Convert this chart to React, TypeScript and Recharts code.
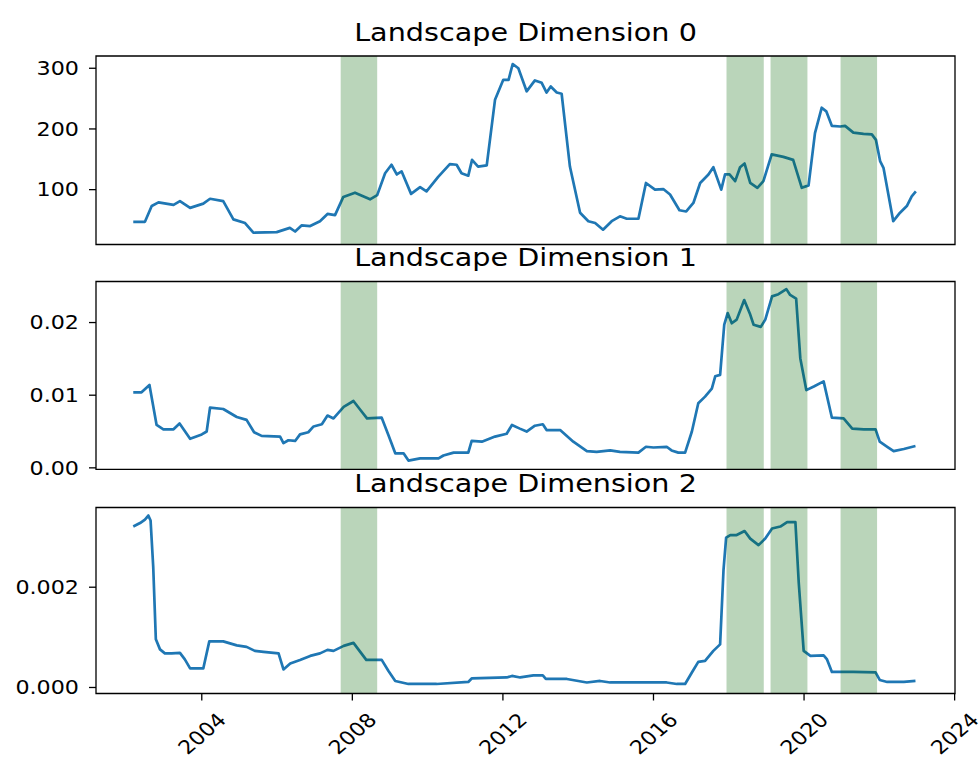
import React from 'react';
import { LineChart, Line, XAxis, YAxis, ReferenceArea } from 'recharts';

// Landscape Dimension 0
const years0 = [2002.18, 2002.49, 2002.67, 2002.85, 2003.25, 2003.42, 2003.69, 2004.04, 2004.22, 2004.57, 2004.84, 2005.15, 2005.37, 2005.99, 2006.34, 2006.48, 2006.65, 2006.88, 2007.14, 2007.34, 2007.54, 2007.76, 2008.07, 2008.47, 2008.66, 2008.87, 2009.04, 2009.18, 2009.31, 2009.56, 2009.80, 2009.97, 2010.28, 2010.59, 2010.77, 2010.90, 2011.08, 2011.18, 2011.34, 2011.57, 2011.79, 2012.01, 2012.15, 2012.26, 2012.41, 2012.63, 2012.85, 2013.03, 2013.16, 2013.27, 2013.43, 2013.56, 2013.78, 2014.05, 2014.27, 2014.45, 2014.66, 2014.89, 2015.11, 2015.29, 2015.60, 2015.80, 2016.04, 2016.26, 2016.44, 2016.69, 2016.87, 2017.06, 2017.24, 2017.46, 2017.59, 2017.80, 2017.90, 2018.02, 2018.17, 2018.30, 2018.42, 2018.57, 2018.76, 2018.92, 2019.14, 2019.45, 2019.71, 2019.94, 2020.12, 2020.29, 2020.47, 2020.59, 2020.74, 2020.96, 2021.09, 2021.31, 2021.58, 2021.80, 2021.91, 2022.02, 2022.11, 2022.37, 2022.55, 2022.73, 2022.86, 2022.97];
const values0 = [47, 47, 73, 79, 75, 81, 70, 77, 85, 81, 51, 45, 29, 30, 37, 31, 41, 40, 48, 60, 58, 88, 95, 84, 91, 127, 141, 125, 130, 93, 104, 97, 121, 142, 141, 127, 123, 149, 138, 140, 248, 281, 281, 307, 300, 262, 280, 276, 260, 270, 260, 258, 138, 62, 48, 45, 34, 48, 56, 52, 52, 111, 100, 101, 92, 66, 64, 78, 111, 125, 137, 100, 125, 125, 114, 137, 143, 111, 103, 114, 158, 154, 149, 103, 107, 193, 235, 229, 205, 204, 205, 194, 192, 191, 182, 147, 136, 48, 62, 73, 89, 97];

// Landscape Dimension 1
const years1 = [2002.18, 2002.40, 2002.61, 2002.80, 2002.98, 2003.25, 2003.41, 2003.69, 2004.00, 2004.13, 2004.22, 2004.57, 2004.93, 2005.19, 2005.39, 2005.59, 2006.08, 2006.17, 2006.30, 2006.48, 2006.61, 2006.83, 2006.97, 2007.19, 2007.34, 2007.50, 2007.77, 2008.03, 2008.21, 2008.39, 2008.78, 2008.96, 2009.14, 2009.36, 2009.49, 2009.80, 2010.29, 2010.42, 2010.69, 2011.08, 2011.17, 2011.44, 2011.79, 2012.10, 2012.24, 2012.45, 2012.63, 2012.85, 2013.06, 2013.16, 2013.52, 2013.87, 2014.23, 2014.49, 2014.85, 2015.11, 2015.60, 2015.80, 2016.00, 2016.35, 2016.48, 2016.66, 2016.84, 2017.02, 2017.19, 2017.37, 2017.55, 2017.64, 2017.77, 2017.88, 2017.97, 2018.08, 2018.21, 2018.41, 2018.57, 2018.66, 2018.85, 2018.97, 2019.15, 2019.32, 2019.53, 2019.63, 2019.79, 2019.90, 2020.06, 2020.26, 2020.52, 2020.74, 2021.05, 2021.28, 2021.59, 2021.90, 2022.01, 2022.21, 2022.38, 2022.65, 2022.96];
const values1 = [0.0104, 0.0104, 0.0114, 0.0059, 0.0053, 0.0053, 0.0061, 0.004, 0.0046, 0.005, 0.0083, 0.0081, 0.007, 0.0066, 0.0049, 0.0044, 0.0043, 0.0034, 0.0038, 0.0037, 0.0046, 0.0049, 0.0057, 0.006, 0.0072, 0.0068, 0.0084, 0.0092, 0.008, 0.0068, 0.0069, 0.0045, 0.002, 0.002, 0.001, 0.0013, 0.0013, 0.0017, 0.0021, 0.0021, 0.0037, 0.0036, 0.0043, 0.0047, 0.0059, 0.0054, 0.005, 0.0058, 0.006, 0.0052, 0.0052, 0.0036, 0.0023, 0.0022, 0.0024, 0.0022, 0.0021, 0.0029, 0.0028, 0.0029, 0.0024, 0.0021, 0.0021, 0.005, 0.0089, 0.0098, 0.0109, 0.0126, 0.0128, 0.0197, 0.0213, 0.0199, 0.0204, 0.0231, 0.0211, 0.0197, 0.0194, 0.0204, 0.0236, 0.0239, 0.0246, 0.0238, 0.0233, 0.0151, 0.0107, 0.0112, 0.0119, 0.0069, 0.0068, 0.0054, 0.0053, 0.0053, 0.0036, 0.0029, 0.0023, 0.0026, 0.003];

// Landscape Dimension 2
const years2 = [2002.18, 2002.36, 2002.49, 2002.58, 2002.64, 2002.71, 2002.78, 2002.89, 2003.02, 2003.20, 2003.42, 2003.55, 2003.69, 2004.04, 2004.20, 2004.57, 2004.93, 2005.19, 2005.41, 2005.64, 2006.04, 2006.17, 2006.35, 2006.61, 2006.88, 2007.14, 2007.34, 2007.50, 2007.77, 2008.03, 2008.21, 2008.37, 2008.78, 2008.96, 2009.14, 2009.49, 2010.24, 2011.08, 2011.17, 2012.10, 2012.24, 2012.46, 2012.81, 2013.06, 2013.14, 2013.70, 2014.23, 2014.58, 2014.85, 2016.35, 2016.62, 2016.84, 2017.02, 2017.19, 2017.37, 2017.59, 2017.77, 2017.86, 2017.93, 2018.04, 2018.21, 2018.42, 2018.57, 2018.79, 2018.97, 2019.15, 2019.37, 2019.55, 2019.77, 2019.86, 2019.99, 2020.17, 2020.52, 2020.61, 2020.74, 2021.31, 2021.90, 2022.01, 2022.21, 2022.65, 2022.96];
const values2 = [0.00321, 0.00328, 0.00335, 0.00343, 0.00333, 0.00241, 0.00096, 0.00076, 0.00068, 0.00068, 0.00069, 0.00056, 0.00038, 0.00038, 0.00092, 0.00092, 0.00084, 0.00081, 0.00073, 0.00071, 0.00068, 0.00036, 0.00048, 0.00055, 0.00063, 0.00068, 0.00075, 0.00073, 0.00083, 0.00089, 0.00071, 0.00055, 0.00055, 0.00033, 0.00013, 0.00007, 0.00007, 0.00011, 0.00018, 0.0002, 0.00023, 0.0002, 0.00024, 0.00024, 0.00017, 0.00017, 0.0001, 0.00013, 0.0001, 0.0001, 0.00007, 0.00007, 0.0003, 0.00051, 0.00053, 0.00073, 0.00086, 0.00234, 0.00299, 0.00304, 0.00304, 0.00312, 0.00297, 0.00284, 0.00297, 0.00317, 0.00321, 0.0033, 0.0033, 0.00208, 0.00073, 0.00063, 0.00064, 0.00056, 0.00031, 0.00031, 0.0003, 0.00015, 0.00011, 0.00011, 0.00013];

// shaded periods
const bandStarts = [2007.69, 2017.94, 2019.11, 2020.97];
const bandEnds = [2008.66, 2018.93, 2020.09, 2021.94];

const xTicks = [2004, 2008, 2012, 2016, 2020, 2024];
const titles = ['Landscape Dimension 0', 'Landscape Dimension 1', 'Landscape Dimension 2'];

const W = 979;
const H = 767;
const LEFT = 96;
const RIGHT = 955;
const Y_W = 60;
const X_H = 60;
const X_DOMAIN: [number, number] = [2001.19, 2024.01];
const FONT = '"DejaVu Sans", sans-serif';
const STRETCH = 1.17;

const panels = [
  { years: years0, values: values0, top: 56, bottom: 244.5, domain: [9.6, 320.2], ticks: [100, 200, 300], digits: 0 },
  { years: years1, values: values1, top: 281.5, bottom: 469.3, domain: [-0.0002, 0.02565], ticks: [0, 0.01, 0.02], digits: 2 },
  { years: years2, values: values2, top: 507.5, bottom: 693.5, domain: [-0.00012, 0.00359], ticks: [0, 0.002], digits: 3 },
];

const YTick = ({ x, y, payload, digits }: any) => (
  <g transform={`translate(${x},${y}) scale(${STRETCH},1)`}>
    <text x={0} y={0} dy="0.36em" textAnchor="end" fontFamily={FONT} fontSize={19} fill="#000">
      {Number(payload.value).toFixed(digits)}
    </text>
  </g>
);

const XTick = ({ x, y, payload }: any) => (
  <g transform={`translate(${x},${y + 31}) scale(${STRETCH},1) rotate(-45)`}>
    <text x={0} y={0} dy="0.36em" textAnchor="middle" fontFamily={FONT} fontSize={19} fill="#000">
      {payload.value}
    </text>
  </g>
);

const Panel = ({ idx }: { idx: number }) => {
  const p = panels[idx];
  const last = idx === panels.length - 1;
  const data = p.years.map((yr, i) => ({ x: yr, v: p.values[i] }));
  return (
    <div style={{ position: 'absolute', left: 0, top: 0 }}>
      <LineChart
        width={W}
        height={H}
        data={data}
        margin={{ top: p.top, bottom: H - p.bottom - (last ? X_H : 0), left: LEFT - Y_W, right: W - RIGHT }}
      >
        <XAxis
          dataKey="x"
          type="number"
          domain={X_DOMAIN}
          allowDataOverflow
          hide={!last}
          ticks={xTicks}
          height={X_H}
          interval={0}
          axisLine={false}
          tickLine={{ stroke: '#000', strokeWidth: 1.3 }}
          tickSize={7}
          tickMargin={2}
          tick={<XTick />}
        />
        <YAxis
          type="number"
          domain={p.domain}
          allowDataOverflow
          ticks={p.ticks}
          width={Y_W}
          interval={0}
          axisLine={false}
          tickLine={{ stroke: '#000', strokeWidth: 1.3 }}
          tickSize={7}
          tickMargin={10}
          tick={<YTick digits={p.digits} />}
        />
        <Line
          dataKey="v"
          type="linear"
          stroke="#1f77b4"
          strokeWidth={2.7}
          strokeLinejoin="round"
          dot={false}
          activeDot={false}
          isAnimationActive={false}
        />
        {bandStarts.map((s, i) => (
          <ReferenceArea
            key={i}
            x1={s}
            x2={bandEnds[i]}
            fill="#006400"
            fillOpacity={0.27}
            stroke="none"
            zIndex={450}
          />
        ))}
        <ReferenceArea
          x1={X_DOMAIN[0]}
          x2={X_DOMAIN[1]}
          y1={p.domain[0]}
          y2={p.domain[1]}
          fill="none"
          stroke="#000"
          strokeWidth={1.3}
          ifOverflow="visible"
          zIndex={460}
        />
      </LineChart>
    </div>
  );
};

export default function App() {
  return (
    <div style={{ position: 'absolute', left: 0, top: 0, width: W, height: H, background: '#fff' }}>
      <Panel idx={0} />
      <Panel idx={1} />
      <Panel idx={2} />
      <svg width={W} height={H} style={{ position: 'absolute', left: 0, top: 0, pointerEvents: 'none' }}>
        {titles.map((t, i) => (
          <g key={t} transform={`translate(${(LEFT + RIGHT) / 2},${panels[i].top - 15.5}) scale(${STRETCH},1)`}>
            <text x={0} y={0} textAnchor="middle" fontFamily={FONT} fontSize={24.5} fill="#000">
              {t}
            </text>
          </g>
        ))}
      </svg>
    </div>
  );
}
